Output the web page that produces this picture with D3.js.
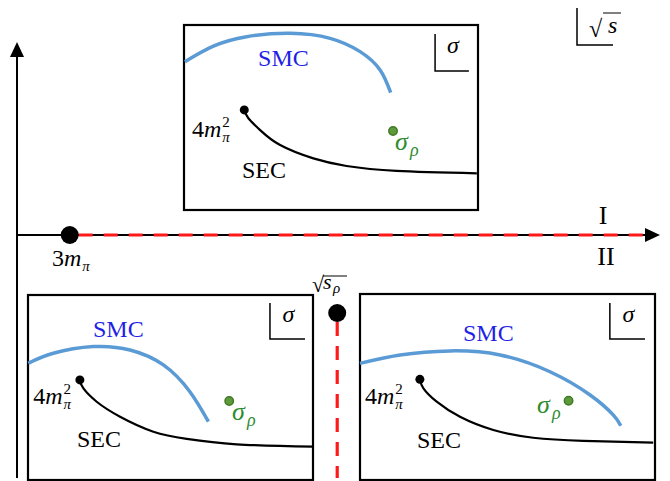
<!DOCTYPE html>
<html lang="en">
<head>
<meta charset="UTF-8">
<title>Riemann sheets: SMC and SEC</title>
<style>
  body { margin: 0; background: #fff; }
  svg { display: block; }
</style>
</head>
<body>
<svg id="chart" width="670" height="481" font-family="Liberation Serif, Times New Roman, serif"></svg>
<script src="https://d3js.org/d3.v7.min.js"></script>
<script>
// --- data (abstract units, 0..10 in each panel, y pointing up) ---
// main sqrt(s) axis positions
const threshold3m = 0.82;
const sqrtSrho = 4.98;

// top panel (sheet I)
const smcTop = [[0.03, 8.02], [1.0, 8.86], [2.13, 9.37], [3.61, 9.55], [4.97, 9.28], [5.99, 8.56], [6.67, 7.57], [7.03, 6.34]];
const secTop = [[2.05, 5.41], [2.19, 4.96], [2.59, 4.32], [3.27, 3.51], [4.40, 2.79], [5.53, 2.38], [7.23, 2.11], [9.96, 1.98]];
const poleTop = [7.11, 4.27];

// bottom-left panel (sheet II, below sqrt(s_rho))
const smcLeft = [[0.01, 6.31], [0.89, 6.85], [2.29, 7.21], [3.58, 7.03], [4.75, 6.22], [5.68, 4.77], [6.33, 3.15]];
const secLeft = [[1.82, 5.41], [1.94, 4.96], [2.41, 4.23], [3.23, 3.42], [4.40, 2.61], [5.57, 2.22], [7.32, 1.93], [10.0, 1.80]];
const poleLeft = [7.06, 4.27];

// bottom-right panel (sheet II, above sqrt(s_rho))
const smcRight = [[0.0, 6.27], [1.36, 6.72], [3.05, 6.94], [4.75, 6.72], [6.44, 5.82], [7.80, 4.57], [8.59, 3.49], [8.84, 2.92]];
const secRight = [[2.03, 5.41], [2.15, 4.93], [2.60, 4.21], [3.39, 3.40], [4.52, 2.69], [5.87, 2.27], [7.57, 2.10], [9.94, 2.01]];
const poleRight = [7.07, 4.26];

// --- layout ---
const panels = [
  { smc: smcTop, sec: secTop, pole: poleTop, box: [184, 25, 478, 210],
    lab: { smc: [2.52, 7.78], thr: [0.27, 3.95], sec: [1.97, 1.73], pole: [7.18, 3.24] },
    corner: [8.54, 9.51, 7.51, 9.69] },
  { smc: smcLeft, sec: secLeft, pole: poleLeft, box: [28, 295, 313, 480],
    lab: { smc: [2.28, 7.73], thr: [0.18, 4.11], sec: [1.72, 1.78], pole: [7.16, 3.24] },
    corner: [8.49, 9.57, 7.62, 9.72] },
  { smc: smcRight, sec: secRight, pole: poleRight, box: [360, 294, 655, 480],
    lab: { smc: [3.49, 7.47], thr: [0.17, 4.09], sec: [1.93, 1.72], pole: [6.0, 3.6] },
    corner: [8.47, 9.52, 7.58, 9.66] }
];

const svg = d3.select("#chart");
const axisY = 235, axisX = 17;
const mainX = d3.scaleLinear().domain([0, 10]).range([axisX, 660]);

// helper: math label with optional sub/superscript
function mathLabel(g, x, y, parts, size, color, sub, sup, subSize) {
  const t = g.append("text").attr("x", x).attr("y", y)
    .attr("font-size", size).attr("fill", color);
  parts.forEach(p => t.append("tspan").attr("font-style", p[1] ? "italic" : "normal").text(p[0]));
  const w = t.node().getComputedTextLength();
  if (sup) g.append("text").attr("x", x + w + 1).attr("y", y - 10)
    .attr("font-size", subSize).attr("fill", color).text(sup);
  if (sub) g.append("text").attr("x", x + w + 1).attr("y", y + 5)
    .attr("font-size", subSize).attr("fill", color).attr("font-style", "italic").text(sub);
}

// --- main axes ---
svg.append("line").attr("x1", axisX).attr("x2", axisX).attr("y1", 478).attr("y2", 55)
  .attr("stroke", "#000").attr("stroke-width", 2);
svg.append("path").attr("d", `M${axisX},42 L${axisX - 7},57 L${axisX + 7},57 Z`).attr("fill", "#000");

svg.append("line").attr("x1", axisX).attr("x2", 647).attr("y1", axisY).attr("y2", axisY)
  .attr("stroke", "#000").attr("stroke-width", 2);
svg.append("path").attr("d", `M660,${axisY} L645,${axisY - 7} L645,${axisY + 7} Z`).attr("fill", "#000");

// red cut on real axis
svg.append("line").attr("x1", mainX(threshold3m) + 9).attr("x2", 645).attr("y1", axisY).attr("y2", axisY)
  .attr("stroke", "#ff1a1a").attr("stroke-width", 3.2).attr("stroke-dasharray", "14,11");
svg.append("circle").attr("cx", mainX(threshold3m)).attr("cy", axisY).attr("r", 9).attr("fill", "#000");
mathLabel(svg, 52, 266, [["3", false], ["m", true]], 24, "#000", "π", null, 15);

svg.append("text").attr("x", 603).attr("y", 224).attr("font-size", 26).attr("text-anchor", "middle").text("I");
svg.append("text").attr("x", 606).attr("y", 265).attr("font-size", 26).attr("text-anchor", "middle").text("II");

// vertical cut at sqrt(s_rho)
const rx = mainX(sqrtSrho);
svg.append("line").attr("x1", rx).attr("x2", rx).attr("y1", 322).attr("y2", 478)
  .attr("stroke", "#ff1a1a").attr("stroke-width", 3.2).attr("stroke-dasharray", "14,10");
svg.append("circle").attr("cx", rx).attr("cy", 313).attr("r", 9).attr("fill", "#000");
svg.append("text").attr("x", 312).attr("y", 292).attr("font-size", 22).text("√");
svg.append("line").attr("x1", 323).attr("x2", 347).attr("y1", 276).attr("y2", 276).attr("stroke", "#000").attr("stroke-width", 1);
svg.append("text").attr("x", 323).attr("y", 289).attr("font-size", 22).attr("font-style", "italic").text("s");
svg.append("text").attr("x", 333).attr("y", 293).attr("font-size", 15).attr("font-style", "italic").text("ρ");

// top-right sqrt(s) marker
svg.append("path").attr("d", "M577,8 L577,45 L613,45").attr("fill", "none").attr("stroke", "#000").attr("stroke-width", 1.5);
svg.append("text").attr("x", 589).attr("y", 37).attr("font-size", 24).text("√");
svg.append("line").attr("x1", 603).attr("x2", 621).attr("y1", 13).attr("y2", 13).attr("stroke", "#000").attr("stroke-width", 1);
svg.append("text").attr("x", 608).attr("y", 33).attr("font-size", 24).attr("font-style", "italic").text("s");

// --- panels ---
panels.forEach(p => {
  const [x0, y0, x1, y1] = p.box;
  const x = d3.scaleLinear().domain([0, 10]).range([x0, x1]);
  const y = d3.scaleLinear().domain([0, 10]).range([y1, y0]);
  const g = svg.append("g");
  const line = d3.line().x(d => x(d[0])).y(d => y(d[1])).curve(d3.curveNatural);

  g.append("rect").attr("x", x0).attr("y", y0).attr("width", x1 - x0).attr("height", y1 - y0)
    .attr("fill", "#fff").attr("stroke", "#000").attr("stroke-width", 2.2);

  // sigma corner
  const [cx, cTop, cBot, cEnd] = p.corner;
  g.append("path").attr("d", `M${x(cx)},${y(cTop)} L${x(cx)},${y(cBot)} L${x(cEnd)},${y(cBot)}`)
    .attr("fill", "none").attr("stroke", "#000").attr("stroke-width", 1.5);
  g.append("text").attr("x", (x(cx) + x(cEnd)) / 2 + 1).attr("y", y(cTop) + 19)
    .attr("font-size", 24).attr("font-style", "italic").attr("text-anchor", "middle").text("σ");

  g.append("path").attr("d", line(p.smc)).attr("fill", "none")
    .attr("stroke", "#5b9bd5").attr("stroke-width", 3.5);
  g.append("path").attr("d", line(p.sec)).attr("fill", "none")
    .attr("stroke", "#000").attr("stroke-width", 2.2);
  g.append("circle").attr("cx", x(p.sec[0][0])).attr("cy", y(p.sec[0][1])).attr("r", 4.5).attr("fill", "#000");
  g.append("circle").attr("cx", x(p.pole[0])).attr("cy", y(p.pole[1])).attr("r", 4.2)
    .attr("fill", "#5e9a3c").attr("stroke", "#3d7a24").attr("stroke-width", 1.5);

  g.append("text").attr("x", x(p.lab.smc[0])).attr("y", y(p.lab.smc[1]))
    .attr("font-size", 24).attr("fill", "#1f1fe6").text("SMC");
  g.append("text").attr("x", x(p.lab.sec[0])).attr("y", y(p.lab.sec[1]))
    .attr("font-size", 24).attr("fill", "#000").text("SEC");
  mathLabel(g, x(p.lab.thr[0]), y(p.lab.thr[1]), [["4", false], ["m", true]], 24, "#000", "π", "2", 15);
  mathLabel(g, x(p.lab.pole[0]), y(p.lab.pole[1]), [["σ", true]], 26, "#2e8b2e", null, null, 16);
  g.append("text").attr("x", x(p.lab.pole[0]) + 15).attr("y", y(p.lab.pole[1]) + 6)
    .attr("font-size", 18).attr("font-style", "italic").attr("fill", "#2e8b2e").text("ρ");
});
</script>
</body>
</html>
